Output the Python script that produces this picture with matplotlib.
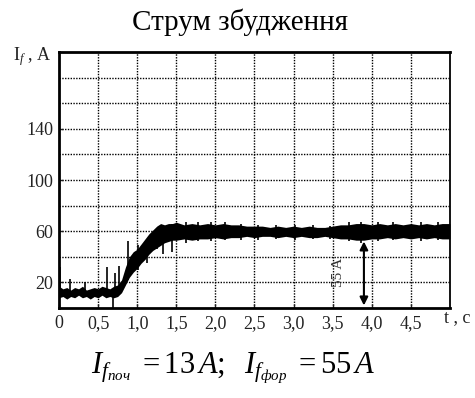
import matplotlib
matplotlib.use("Agg")
import matplotlib.pyplot as plt

plt.rcParams["font.family"] = ["Liberation Serif", "DejaVu Serif"]
plt.rcParams["mathtext.fontset"] = "custom"
plt.rcParams["mathtext.rm"] = "Liberation Serif"
plt.rcParams["mathtext.it"] = "Liberation Serif:italic"

t_env = [0.00, 0.05, 0.10, 0.15, 0.20, 0.25, 0.30, 0.35, 0.40, 0.45,
         0.50, 0.55, 0.60, 0.65, 0.70, 0.75, 0.80, 0.85, 0.90, 0.95,
         1.00, 1.05, 1.10, 1.15, 1.20, 1.25, 1.30, 1.35, 1.40, 1.45,
         1.50, 1.60, 1.70, 1.80, 1.90, 2.00, 2.10, 2.20, 2.30, 2.40,
         2.50, 2.60, 2.70, 2.80, 2.90, 3.00, 3.10, 3.20, 3.30, 3.40,
         3.50, 3.60, 3.70, 3.80, 3.90, 4.00, 4.10, 4.20, 4.30, 4.40,
         4.50, 4.60, 4.70, 4.80, 4.90, 5.00]
i_upper = [17, 15, 16, 14, 16, 15, 17, 14, 15, 16,
           15, 17, 16, 15, 17, 18, 22, 32, 40, 44,
           46, 50, 54, 58, 61, 64, 66, 65, 66, 66,
           67, 65, 66, 65, 66, 65, 66, 65, 65, 64,
           64, 64, 63, 64, 63, 64, 63, 64, 63, 63,
           64, 65, 65, 66, 66, 65, 66, 65, 66, 65,
           66, 65, 66, 65, 66, 66]
i_lower = [8, 9, 7, 9, 8, 10, 8, 9, 7, 9,
           8, 10, 8, 9, 8, 9, 12, 18, 24, 28,
           31, 35, 38, 42, 45, 47, 49, 51, 52, 53,
           53, 54, 53, 54, 54, 55, 54, 55, 55, 56,
           55, 56, 56, 55, 56, 55, 56, 55, 55, 56,
           55, 54, 54, 53, 53, 54, 54, 55, 54, 55,
           54, 55, 54, 55, 54, 54]

# single noise spikes
spike_t = [0.01, 0.14, 0.33, 0.61, 0.69, 0.72, 0.77, 0.88, 1.01, 1.13,
           1.25, 1.33, 1.44, 1.62, 1.78, 1.95, 2.12, 2.33, 2.55, 2.78,
           3.02, 3.25, 3.47, 3.71, 3.86, 4.08, 4.27, 4.42, 4.63, 4.85]
spike_lo = [10, 10, 10, 10, 0, 10, 12, 22, 30, 35,
            46, 42, 44, 51, 52, 52, 53, 53, 53, 54,
            53, 54, 54, 52, 51, 52, 53, 56, 52, 53]
spike_hi = [32, 23, 20, 32, 12, 27, 33, 52, 49, 50,
            60, 64, 66, 67, 67, 67, 67, 66, 65, 65,
            65, 65, 64, 67, 67, 67, 67, 64, 67, 67]

x_ticks = [0.0, 0.5, 1.0, 1.5, 2.0, 2.5, 3.0, 3.5, 4.0, 4.5]
x_labels = ["0", "0,5", "1,0", "1,5", "2,0", "2,5", "3,0", "3,5", "4,0", "4,5"]
y_grid = [20, 40, 60, 80, 100, 120, 140, 160, 180]
y_ticks = [20, 60, 100, 140]

fig = plt.figure(figsize=(4.75, 3.98), dpi=100)
ax = fig.add_axes([0.1242, 0.2261, 0.823, 0.643])

for xv in x_ticks[1:]:
    ax.axvline(xv, color="black", lw=1.0, ls=(0, (1, 1)), zorder=1)
for yv in y_grid:
    ax.axhline(yv, color="black", lw=1.0, ls=(0, (1, 1)), zorder=1)

ax.fill_between(t_env, i_lower, i_upper, color="black", lw=0, zorder=3)
ax.vlines(spike_t, spike_lo, spike_hi, color="black", lw=1.2, zorder=3)

ax.annotate("", xy=(3.9, 2), xytext=(3.9, 52),
            arrowprops=dict(arrowstyle="<|-|>", color="black", lw=1.5,
                            mutation_scale=12, shrinkA=0, shrinkB=0),
            zorder=4)
ax.text(3.57, 28, "55 A", rotation=90, ha="center", va="center",
        fontsize=11, color="#333333")

ax.set_xlim(0, 5.0)
ax.set_ylim(0, 200)
ax.set_xticks(x_ticks)
ax.set_xticklabels(x_labels)
ax.set_yticks(y_ticks)
ax.tick_params(axis="both", direction="in", length=3, width=1, labelsize=13,
               colors="#222222")
ax.tick_params(axis="x", pad=5)
ax.tick_params(axis="y", pad=4)
for side in ["left", "bottom", "top"]:
    ax.spines[side].set_linewidth(2.0)
ax.spines["right"].set_linewidth(1.3)

fig.text(0.505, 0.945, "Струм збудження", ha="center", va="center", fontsize=21)
fig.text(0.109, 0.857, r"I$_f$ , A", ha="right", va="center", fontsize=13,
         color="#222222")
fig.text(0.962, 0.201, "t , c", ha="center", va="center", fontsize=13,
         color="#222222")
fig.text(0.49, 0.075,
         r"$I_{f_{\mathit{поч}}}\ = \mathrm{13}\,A;\ \ I_{f_{\mathit{фор}}}\ = \mathrm{55}\,A$",
         ha="center", va="center", fontsize=22)

fig.savefig("out.png", dpi=100)
